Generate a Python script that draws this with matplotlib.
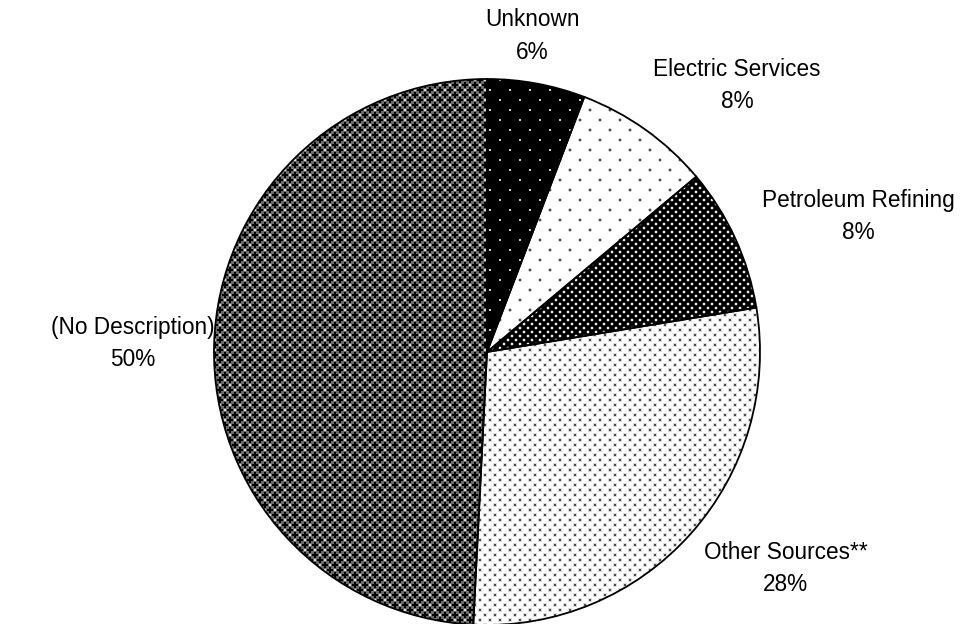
import numpy as np
import matplotlib.pyplot as plt

# slices, clockwise from 12 o'clock (shares)
labels = ['Unknown', 'Electric Services', 'Petroleum Refining',
          'Other Sources**', '(No Description)']
shares = [5.8, 8.1, 8.5, 28.4, 49.2]
pct_text = ['6%', '8%', '8%', '28%', '50%']

# label centres in pie units (radius = 1)
label_xy = [(0.167, 1.157), (0.916, 0.976), (1.361, 0.496),
            (1.093, -0.793), (-1.297, 0.031)]

W, H = 976, 624
CX, CY, R = 487, 352, 273

plt.rcParams['font.family'] = ['Liberation Sans', 'DejaVu Sans']

yy, xx = np.mgrid[0:H, 0:W] + 0.5


def lattice(p, q, ox=0.0):
    """offsets to the nearest point of a staggered dot lattice"""
    best_dx = best_dy = None
    for sx, sy in ((ox, 0.0), (ox + p / 2.0, q)):
        dx = (xx - sx + p / 2.0) % p - p / 2.0
        dy = (yy - sy + q) % (2 * q) - q
        if best_dx is None:
            best_dx, best_dy = dx, dy
        else:
            closer = np.hypot(dx, dy) < np.hypot(best_dx, best_dy)
            best_dx = np.where(closer, dx, best_dx)
            best_dy = np.where(closer, dy, best_dy)
    return best_dx, best_dy


def blend(bg, fg, a):
    return bg + (fg - bg) * a


def dots(bg, fg, p, q, r, square=False):
    dx, dy = lattice(p, q)
    if square:
        d = np.maximum(np.abs(dx), np.abs(dy))
    else:
        d = np.hypot(dx, dy)
    a = np.clip(r + 0.5 - d, 0, 1)
    return blend(bg, fg, a)


def crosses(p, q):
    g = np.full(xx.shape, 0.42)
    # white specks in the holes between the crosses
    hx, hy = lattice(p, q, ox=p / 2.0)
    g = blend(g, 0.97, np.clip(1.5 - np.hypot(hx, hy), 0, 1))
    dx, dy = lattice(p, q)
    lo = np.minimum(np.abs(dx), np.abs(dy))
    hi = np.maximum(np.abs(dx), np.abs(dy))
    arm = (lo <= 1.0) & (hi <= 3.0)
    return np.where(arm, 0.0, g)


textures = [
    dots(0.0, 1.0, 20, 10, 1.0),
    dots(1.0, 0.3, 20, 10, 1.4),
    dots(0.0, 0.92, 8, 4, 1.3),
    dots(1.0, 0.3, 10, 5, 1.2, square=True),
    crosses(10, 5),
]

fig = plt.figure(figsize=(W / 100, H / 100), dpi=100)
ax = fig.add_axes([0, 0, 1, 1])

wedges, _ = ax.pie(shares, startangle=90, counterclock=False, radius=1,
                   colors=['none'] * len(shares),
                   wedgeprops=dict(edgecolor='black', linewidth=1.3, zorder=2))

xlim = (-CX / R, (W - CX) / R)
ylim = ((CY - H) / R, CY / R)

for wedge, tex in zip(wedges, textures):
    rgb = np.dstack([tex] * 3)
    im = ax.imshow(rgb, extent=(xlim[0], xlim[1], ylim[0], ylim[1]),
                   origin='upper', interpolation='nearest', zorder=1)
    im.set_clip_path(wedge)

ax.set_xlim(*xlim)
ax.set_ylim(*ylim)
ax.set_aspect('auto')
ax.axis('off')

for name, pct, (lx, ly) in zip(labels, pct_text, label_xy):
    ax.text(lx, ly, f'{name}\n{pct}', ha='center', va='center',
            fontsize=16.3, linespacing=1.52, color='black')

fig.savefig('out.png', dpi=100)
